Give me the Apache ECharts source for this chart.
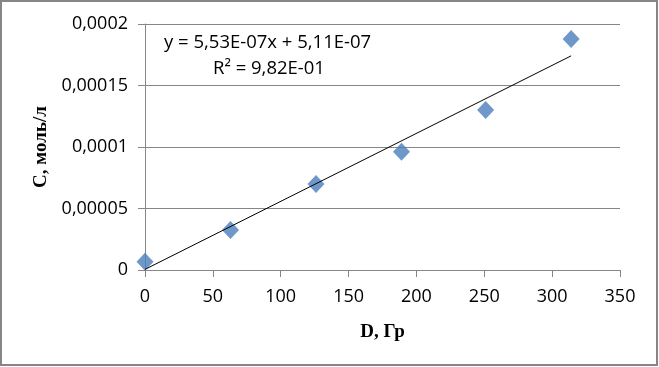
<!DOCTYPE html>
<html><head><meta charset="utf-8">
<script src="https://cdn.jsdelivr.net/npm/echarts@6/dist/echarts.min.js"></script>
<style>html,body{margin:0;padding:0;background:#fff}#c{width:659px;height:367px}</style>
</head><body><div id="c"></div>
<script>
const doseX = [0, 63, 126, 189, 251, 314];
const concY = [0.0000068, 0.0000325, 0.00007, 0.0000962, 0.00013, 0.0001878];
const trendX = [0, 314];
const trendY = [0.000000511, 0.0001741];
const eqLines = ['y = 5,53E-07x + 5,11E-07', 'R² = 9,82E-01'];
const xTitle = 'D, Гр';
const yTitle = 'C, моль/л';

const chart = echarts.init(document.getElementById('c'), null, {renderer: 'canvas'});
const lbl = {color: '#000', fontFamily: 'Open Sans, Liberation Sans, sans-serif', fontSize: 18};
chart.setOption({
  animation: false,
  graphic: [
    {type: 'rect', shape: {x: 1, y: 1, width: 656, height: 364}, style: {fill: 'none', stroke: '#868686', lineWidth: 2}, z: 100},
    {type: 'text', left: 164, top: 33, style: {text: eqLines[0], fill: '#000', font: '18.5px "Open Sans", sans-serif'}},
    {type: 'text', left: 213, top: 59, style: {text: eqLines[1], fill: '#000', font: '18.5px "Open Sans", sans-serif'}}
  ],
  grid: {left: 145, right: 39, top: 24, bottom: 97},
  xAxis: {
    type: 'value', min: 0, max: 350, interval: 50,
    name: xTitle, nameLocation: 'middle', nameGap: 53,
    nameTextStyle: {fontFamily: 'Liberation Serif, Times New Roman, serif', fontWeight: 'bold', fontSize: 19, color: '#000'},
    axisLine: {show: true, lineStyle: {color: '#868686'}},
    axisTick: {show: true, length: 7, lineStyle: {color: '#868686'}},
    axisLabel: Object.assign({margin: 18}, lbl),
    splitLine: {show: false}
  },
  yAxis: {
    type: 'value', min: 0, max: 0.0002, interval: 0.00005,
    name: yTitle, nameLocation: 'middle', nameGap: 93, nameRotate: 90,
    nameTextStyle: {fontFamily: 'Liberation Serif, Times New Roman, serif', fontWeight: 'bold', fontSize: 19, color: '#000'},
    axisLine: {show: true, lineStyle: {color: '#868686'}},
    axisTick: {show: true, length: 7, lineStyle: {color: '#868686'}},
    axisLabel: Object.assign({margin: 17, formatter: v => String(+(+v).toPrecision(6)).replace('.', ',')}, lbl),
    splitLine: {show: true, lineStyle: {color: '#868686'}}
  },
  series: [
    {type: 'line', data: trendX.map((x, i) => [x, trendY[i]]), symbol: 'none',
     lineStyle: {color: '#000', width: 1}, z: 3},
    {type: 'scatter', data: doseX.map((x, i) => [x, concY[i]]), symbol: 'diamond', symbolSize: [17, 18],
     itemStyle: {color: '#4a7ebb'}, z: 2}
  ]
});
</script></body></html>
